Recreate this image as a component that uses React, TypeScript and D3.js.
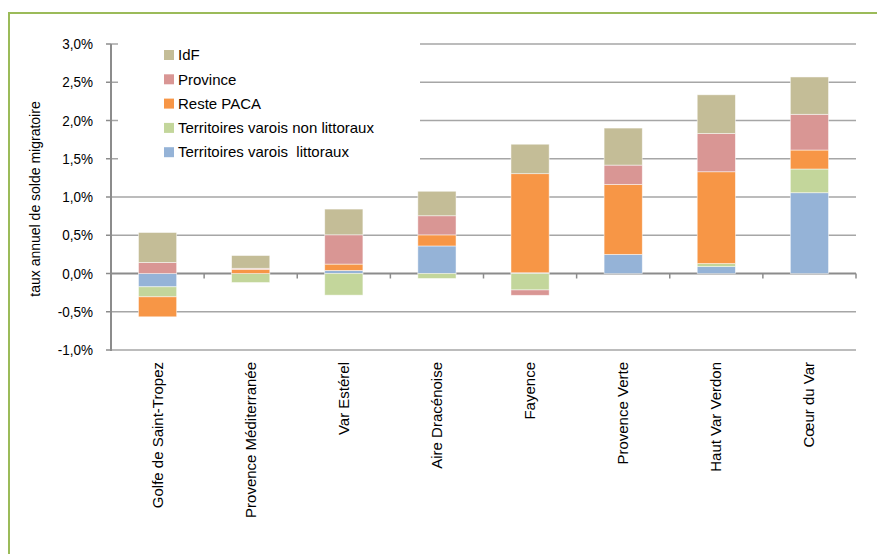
import React from "react";
import * as d3 from "d3";

const categories = [
  "Golfe de Saint-Tropez",
  "Provence Méditerranée",
  "Var Estérel",
  "Aire Dracénoise",
  "Fayence",
  "Provence Verte",
  "Haut Var Verdon",
  "Cœur du Var",
];

const littoraux = [-0.174, 0, 0.04, 0.36, 0.01, 0.25, 0.09, 1.056];
const nonLittoraux = [-0.131, -0.118, -0.283, -0.065, -0.215, 0, 0.04, 0.31];
const restePaca = [-0.261, 0.055, 0.083, 0.145, 1.295, 0.915, 1.2, 0.248];
const province = [0.144, 0.013, 0.383, 0.25, -0.07, 0.252, 0.5, 0.467];
const idf = [0.392, 0.167, 0.336, 0.32, 0.385, 0.484, 0.506, 0.488];

const seriesKeys = ["lit", "nonlit", "paca", "prov", "idf"];
const seriesNames = [
  "Territoires varois  littoraux",
  "Territoires varois non littoraux",
  "Reste PACA",
  "Province",
  "IdF",
];
const seriesColors = ["#95B3D7", "#C3D69B", "#F79646", "#D99694", "#C4BD97"];

const yTicks = [-1, -0.5, 0, 0.5, 1, 1.5, 2, 2.5, 3];

export default function App() {
  const W = 877;
  const H = 554;
  const left = 111;
  const right = 856;
  const top = 44;
  const bottom = 350;

  const x = d3
    .scaleBand<string>()
    .domain(categories)
    .range([left, right])
    .paddingInner(0.59)
    .paddingOuter(0.295);
  const step = x.step();
  const y = d3.scaleLinear().domain([-1, 3]).range([bottom, top]);

  const rows = categories.map((c, i) => ({
    cat: c,
    lit: littoraux[i],
    nonlit: nonLittoraux[i],
    paca: restePaca[i],
    prov: province[i],
    idf: idf[i],
  }));
  const stacked = d3
    .stack<any>()
    .keys(seriesKeys)
    .offset(d3.stackOffsetDiverging)(rows);

  const fmt = (v: number) => v.toFixed(1).replace(".", ",") + "%";
  const font = "Liberation Sans, Arial, sans-serif";

  const legendOrder = [4, 3, 2, 1, 0];
  const sx = 0.9;

  return (
    <svg
      width={W}
      height={H}
      style={{ position: "absolute", left: 0, top: 0, background: "#fff" }}
      fontFamily={font}
    >
      <rect x={0} y={0} width={W} height={H} fill="#fff" />
      {/* green frame */}
      <line x1={9} y1={13} x2={W} y2={13} stroke="#9BBB59" strokeWidth={2} />
      <line x1={9} y1={12} x2={9} y2={H} stroke="#9BBB59" strokeWidth={2} />

      {/* gridlines */}
      {yTicks.map((t) => (
        <line
          key={"g" + t}
          x1={left}
          x2={right}
          y1={y(t)}
          y2={y(t)}
          stroke={t === 0 ? "#8c8c8c" : "#a6a6a6"}
          strokeWidth={t === 0 ? 2 : 1.5}
        />
      ))}

      {/* legend box hiding gridlines */}
      <rect x={118} y={34} width={302} height={134} fill="#fff" />

      {/* y axis */}
      <line x1={left} x2={left} y1={top} y2={bottom + 1} stroke="#8c8c8c" strokeWidth={2} />
      {yTicks.map((t) => (
        <g key={"t" + t}>
          <line x1={left - 5} x2={left} y1={y(t)} y2={y(t)} stroke="#8c8c8c" strokeWidth={1.5} />
          <g transform={`scale(${sx},1)`}>
            <text
              x={93 / sx}
              y={y(t)}
              dy="0.35em"
              textAnchor="end"
              fontSize={15}
              fill="#000"
            >
              {fmt(t)}
            </text>
          </g>
        </g>
      ))}
      {/* category ticks on zero line */}
      {categories.map((c, i) => (
        <line
          key={"ct" + i}
          x1={left + step * (i + 1)}
          x2={left + step * (i + 1)}
          y1={y(0)}
          y2={y(0) + 5}
          stroke="#8c8c8c"
          strokeWidth={1.5}
        />
      ))}

      {/* bars */}
      {stacked.map((s, si) =>
        s.map((d, i) => {
          const y0 = y(d[0]);
          const y1 = y(d[1]);
          const h = Math.abs(y0 - y1);
          if (h < 0.01) return null;
          return (
            <rect
              key={si + "-" + i}
              x={x(categories[i])}
              y={Math.min(y0, y1)}
              width={x.bandwidth()}
              height={h}
              fill={seriesColors[si]}
              stroke="#ffffff"
              strokeOpacity={0.6}
              strokeWidth={0.8}
            />
          );
        })
      )}

      {/* category labels */}
      {categories.map((c) => {
        const cx = (x(c) as number) + x.bandwidth() / 2;
        return (
          <text
            key={"l" + c}
            transform={`translate(${cx + 5},362) rotate(-90)`}
            textAnchor="end"
            fontSize={15}
            fill="#000"
          >
            {c}
          </text>
        );
      })}

      {/* y axis title */}
      <text
        transform={`translate(${40},${199}) rotate(-90)`}
        textAnchor="middle"
        fontSize={14}
        fill="#000"
      >
        taux annuel de solde migratoire
      </text>

      {/* legend */}
      {legendOrder.map((si, k) => {
        const ly = 55 + k * 24.3;
        return (
          <g key={"lg" + si}>
            <rect x={164} y={ly - 5} width={10} height={10} fill={seriesColors[si]} />
            <text
              x={178}
              y={ly}
              dy="0.35em"
              fontSize={15}
              fill="#000"
              style={{ whiteSpace: "pre" }}
            >
              {seriesNames[si]}
            </text>
          </g>
        );
      })}
    </svg>
  );
}
